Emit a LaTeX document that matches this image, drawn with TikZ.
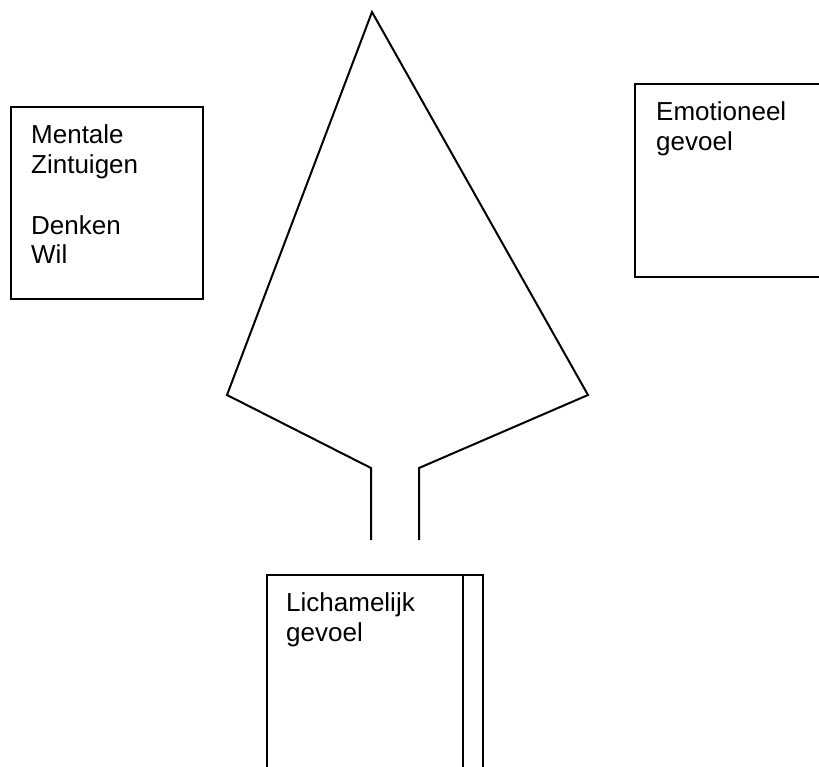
\documentclass[tikz,border=0pt]{standalone}
\usepackage{fontspec}
\setmainfont{Liberation Sans}
\begin{document}
\begin{tikzpicture}[x=1pt,y=-1pt,
  ln/.style={line width=2pt, line join=miter},
  lbl/.style={anchor=base west, inner sep=0pt, font=\fontsize{26}{30}\selectfont}]
\useasboundingbox (0,0) rectangle (819,766);
\clip (0,0) rectangle (819,766);
% funnel
\coordinate (apex) at (372,12);
\coordinate (lc) at (227,395);
\coordinate (lst) at (371,468);
\coordinate (lsb) at (371,540);
\coordinate (rc) at (588,395);
\coordinate (rst) at (419,468);
\coordinate (rsb) at (419,540);
\draw[ln] (lsb) -- (lst) -- (lc) -- (apex) -- (rc) -- (rst) -- (rsb);
% left box
\draw[ln] (11,107) rectangle (203,299);
\node[lbl] (m1) at (31,143) {Mentale};
\node[lbl] (m2) at (31,173) {Zintuigen};
\node[lbl] (m3) at (31,234) {Denken};
\node[lbl] (m4) at (31,263) {Wil};
% right box (cut by edge)
\draw[ln] (840,84) -- (635,84) -- (635,277) -- (840,277);
\node[lbl] (e1) at (656,120) {Emotioneel};
\node[lbl] (e2) at (656,150) {gevoel};
% bottom box (cut by edge)
\draw[ln] (267,790) -- (267,575) -- (483,575) -- (483,790);
\draw[ln] (463,575) -- (463,790);
\node[lbl] (l1) at (286,611) {Lichamelijk};
\node[lbl] (l2) at (286,641) {gevoel};
\end{tikzpicture}
\end{document}
